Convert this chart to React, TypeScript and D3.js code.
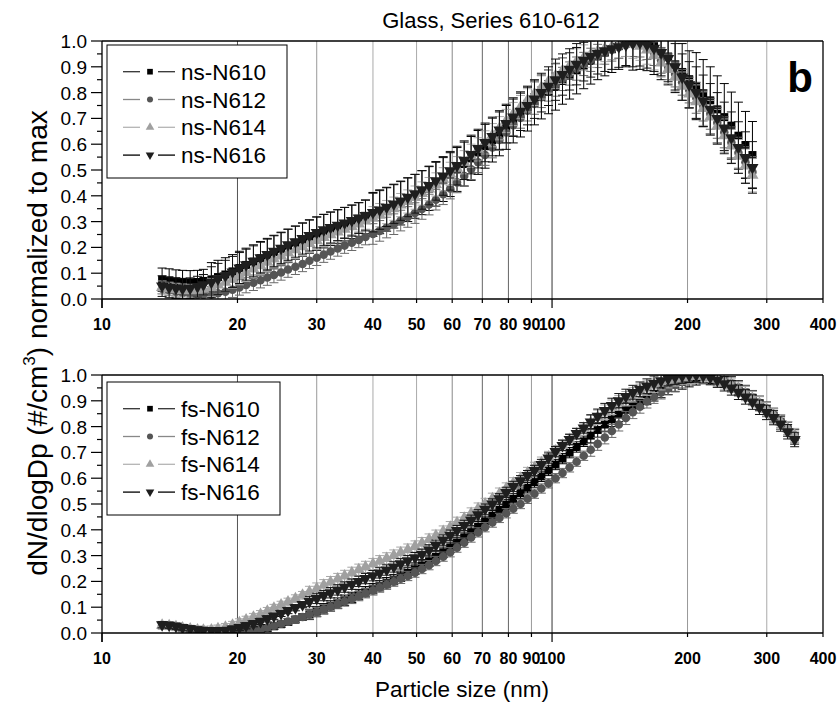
import React from 'react';
import * as d3 from 'd3';

// Particle diameters (nm), SMPS channels
const diameters = [13.6, 14.1, 14.6, 15.1, 15.7, 16.3, 16.8, 17.5, 18.1, 18.8, 19.5, 20.2, 20.9, 21.7, 22.5, 23.3, 24.1, 25.0, 25.9, 26.9, 27.9, 28.9, 30.0, 31.1, 32.2, 33.4, 34.6, 35.9, 37.2, 38.5, 40.0, 41.4, 42.9, 44.5, 46.1, 47.8, 49.6, 51.4, 53.3, 55.2, 57.3, 59.4, 61.5, 63.8, 66.1, 68.5, 71.0, 73.7, 76.4, 79.1, 82.0, 85.1, 88.2, 91.4, 94.7, 98.2, 101.8, 105.5, 109.4, 113.4, 117.6, 121.9, 126.3, 131.0, 135.8, 140.7, 145.9, 151.2, 156.8, 162.5, 168.5, 174.7, 181.1, 187.7, 194.6, 201.7, 209.1, 216.7, 224.7, 232.9, 241.4, 250.3, 259.5, 269.0, 278.8, 289.0, 299.6, 310.6, 322.0, 333.8, 346.0];

// Top panel (ns) values
const nsN610 = [0.075, 0.072, 0.068, 0.066, 0.065, 0.066, 0.07, 0.076, 0.085, 0.095, 0.107, 0.12, 0.132, 0.145, 0.158, 0.17, 0.182, 0.194, 0.206, 0.218, 0.23, 0.242, 0.253, 0.263, 0.272, 0.281, 0.29, 0.299, 0.308, 0.318, 0.328, 0.338, 0.348, 0.36, 0.372, 0.385, 0.398, 0.412, 0.428, 0.445, 0.463, 0.482, 0.502, 0.523, 0.545, 0.568, 0.592, 0.616, 0.64, 0.665, 0.69, 0.713, 0.736, 0.76, 0.783, 0.803, 0.822, 0.845, 0.865, 0.885, 0.905, 0.923, 0.94, 0.955, 0.968, 0.98, 0.99, 0.997, 1.0, 0.995, 0.98, 0.96, 0.94, 0.91, 0.88, 0.852, 0.825, 0.798, 0.77, 0.735, 0.705, 0.672, 0.633, 0.597, 0.558];
const nsN612 = [0.04, 0.033, 0.027, 0.022, 0.018, 0.016, 0.016, 0.018, 0.022, 0.028, 0.036, 0.045, 0.054, 0.063, 0.073, 0.083, 0.093, 0.103, 0.114, 0.125, 0.136, 0.148, 0.16, 0.172, 0.184, 0.196, 0.207, 0.218, 0.229, 0.24, 0.252, 0.264, 0.277, 0.29, 0.304, 0.318, 0.333, 0.349, 0.366, 0.385, 0.406, 0.428, 0.452, 0.477, 0.503, 0.53, 0.558, 0.587, 0.616, 0.645, 0.674, 0.702, 0.73, 0.756, 0.782, 0.807, 0.831, 0.853, 0.874, 0.893, 0.911, 0.927, 0.942, 0.955, 0.967, 0.977, 0.985, 0.99, 0.988, 0.978, 0.955, 0.925, 0.9, 0.872, 0.84, 0.81, 0.78, 0.75, 0.718, 0.683, 0.646, 0.607, 0.567, 0.53, 0.492];
const nsN614 = [0.045, 0.04, 0.036, 0.033, 0.032, 0.034, 0.038, 0.045, 0.054, 0.065, 0.077, 0.09, 0.103, 0.116, 0.129, 0.142, 0.155, 0.167, 0.179, 0.191, 0.203, 0.215, 0.227, 0.238, 0.249, 0.26, 0.27, 0.28, 0.291, 0.302, 0.313, 0.325, 0.337, 0.35, 0.364, 0.378, 0.393, 0.409, 0.426, 0.444, 0.464, 0.485, 0.507, 0.53, 0.555, 0.58, 0.607, 0.635, 0.662, 0.69, 0.717, 0.744, 0.77, 0.795, 0.82, 0.843, 0.865, 0.885, 0.903, 0.92, 0.935, 0.948, 0.96, 0.97, 0.978, 0.985, 0.99, 0.988, 0.98, 0.965, 0.943, 0.915, 0.89, 0.86, 0.825, 0.795, 0.765, 0.738, 0.705, 0.67, 0.633, 0.593, 0.553, 0.516, 0.48];
const nsN616 = [0.05, 0.045, 0.042, 0.04, 0.042, 0.048, 0.055, 0.065, 0.078, 0.09, 0.105, 0.12, 0.133, 0.146, 0.16, 0.172, 0.185, 0.197, 0.21, 0.222, 0.234, 0.246, 0.258, 0.268, 0.277, 0.286, 0.295, 0.304, 0.314, 0.324, 0.335, 0.345, 0.356, 0.368, 0.38, 0.394, 0.408, 0.423, 0.44, 0.458, 0.477, 0.497, 0.517, 0.538, 0.56, 0.583, 0.607, 0.63, 0.655, 0.68, 0.705, 0.728, 0.75, 0.775, 0.8, 0.825, 0.85, 0.87, 0.89, 0.91, 0.925, 0.94, 0.952, 0.962, 0.97, 0.978, 0.985, 0.99, 0.993, 0.985, 0.972, 0.955, 0.932, 0.9, 0.86, 0.83, 0.8, 0.768, 0.735, 0.7, 0.663, 0.625, 0.587, 0.548, 0.51];

// Top panel error bars
const nsErr610 = [0.045, 0.045, 0.045, 0.045, 0.045, 0.045, 0.045, 0.065, 0.065, 0.065, 0.065, 0.065, 0.065, 0.065, 0.065, 0.065, 0.065, 0.065, 0.065, 0.065, 0.065, 0.065, 0.065, 0.065, 0.065, 0.065, 0.065, 0.065, 0.065, 0.065, 0.085, 0.085, 0.085, 0.085, 0.085, 0.085, 0.085, 0.085, 0.085, 0.085, 0.085, 0.085, 0.085, 0.085, 0.085, 0.085, 0.085, 0.085, 0.085, 0.085, 0.085, 0.085, 0.085, 0.085, 0.085, 0.085, 0.09, 0.09, 0.09, 0.09, 0.09, 0.09, 0.09, 0.09, 0.09, 0.09, 0.09, 0.11, 0.11, 0.11, 0.11, 0.11, 0.11, 0.11, 0.11, 0.11, 0.13, 0.13, 0.13, 0.13, 0.13, 0.13, 0.13, 0.13, 0.13];
const nsErr612 = [0.02, 0.02, 0.02, 0.02, 0.02, 0.02, 0.02, 0.03, 0.03, 0.03, 0.03, 0.03, 0.03, 0.03, 0.03, 0.03, 0.03, 0.03, 0.03, 0.03, 0.03, 0.03, 0.03, 0.03, 0.03, 0.03, 0.03, 0.03, 0.03, 0.03, 0.04, 0.04, 0.04, 0.04, 0.04, 0.04, 0.04, 0.04, 0.04, 0.04, 0.04, 0.04, 0.04, 0.04, 0.04, 0.04, 0.04, 0.04, 0.04, 0.04, 0.04, 0.04, 0.04, 0.04, 0.04, 0.04, 0.045, 0.045, 0.045, 0.045, 0.045, 0.045, 0.045, 0.045, 0.045, 0.045, 0.045, 0.05, 0.05, 0.05, 0.05, 0.05, 0.05, 0.05, 0.05, 0.05, 0.06, 0.06, 0.06, 0.06, 0.06, 0.06, 0.06, 0.06, 0.06];
const nsErr614 = [0.025, 0.025, 0.025, 0.025, 0.025, 0.025, 0.025, 0.035, 0.035, 0.035, 0.035, 0.035, 0.035, 0.035, 0.035, 0.035, 0.035, 0.035, 0.035, 0.035, 0.035, 0.035, 0.035, 0.035, 0.035, 0.035, 0.035, 0.035, 0.035, 0.035, 0.045, 0.045, 0.045, 0.045, 0.045, 0.045, 0.045, 0.045, 0.045, 0.045, 0.045, 0.045, 0.045, 0.045, 0.045, 0.045, 0.045, 0.045, 0.045, 0.045, 0.045, 0.045, 0.045, 0.045, 0.045, 0.045, 0.05, 0.05, 0.05, 0.05, 0.05, 0.05, 0.05, 0.05, 0.05, 0.05, 0.05, 0.055, 0.055, 0.055, 0.055, 0.055, 0.055, 0.055, 0.055, 0.055, 0.065, 0.065, 0.065, 0.065, 0.065, 0.065, 0.065, 0.065, 0.065];
const nsErr616 = [0.04, 0.04, 0.04, 0.04, 0.04, 0.04, 0.04, 0.06, 0.06, 0.06, 0.06, 0.06, 0.06, 0.06, 0.06, 0.06, 0.06, 0.06, 0.06, 0.06, 0.06, 0.06, 0.06, 0.06, 0.06, 0.06, 0.06, 0.06, 0.06, 0.06, 0.075, 0.075, 0.075, 0.075, 0.075, 0.075, 0.075, 0.075, 0.075, 0.075, 0.075, 0.075, 0.075, 0.075, 0.075, 0.075, 0.075, 0.075, 0.075, 0.075, 0.075, 0.075, 0.075, 0.075, 0.075, 0.075, 0.08, 0.08, 0.08, 0.08, 0.08, 0.08, 0.08, 0.08, 0.08, 0.08, 0.08, 0.09, 0.09, 0.09, 0.09, 0.09, 0.09, 0.09, 0.09, 0.09, 0.1, 0.1, 0.1, 0.1, 0.1, 0.1, 0.1, 0.1, 0.1];

// Bottom panel (fs) values
const fsN610 = [0.03, 0.028, 0.024, 0.019, 0.014, 0.01, 0.007, 0.005, 0.004, 0.003, 0.003, 0.004, 0.006, 0.009, 0.013, 0.019, 0.026, 0.034, 0.043, 0.052, 0.062, 0.072, 0.083, 0.094, 0.105, 0.116, 0.127, 0.138, 0.149, 0.16, 0.172, 0.183, 0.195, 0.207, 0.22, 0.233, 0.247, 0.262, 0.278, 0.295, 0.313, 0.332, 0.351, 0.371, 0.391, 0.412, 0.433, 0.455, 0.477, 0.498, 0.52, 0.542, 0.563, 0.585, 0.607, 0.63, 0.653, 0.676, 0.699, 0.721, 0.743, 0.765, 0.787, 0.808, 0.828, 0.847, 0.865, 0.882, 0.898, 0.913, 0.927, 0.94, 0.952, 0.963, 0.973, 0.982, 0.989, 0.994, 0.995, 0.99, 0.98, 0.966, 0.95, 0.932, 0.912, 0.89, 0.867, 0.843, 0.817, 0.79, 0.76];
const fsN612 = [0.03, 0.028, 0.024, 0.019, 0.014, 0.01, 0.008, 0.006, 0.005, 0.004, 0.004, 0.005, 0.007, 0.01, 0.015, 0.021, 0.028, 0.036, 0.044, 0.053, 0.062, 0.072, 0.082, 0.092, 0.102, 0.112, 0.122, 0.132, 0.143, 0.154, 0.165, 0.176, 0.187, 0.199, 0.21, 0.221, 0.234, 0.248, 0.263, 0.279, 0.296, 0.313, 0.331, 0.35, 0.37, 0.39, 0.41, 0.428, 0.446, 0.464, 0.482, 0.5, 0.52, 0.54, 0.56, 0.58, 0.6, 0.62, 0.642, 0.664, 0.687, 0.71, 0.733, 0.758, 0.783, 0.808, 0.833, 0.856, 0.877, 0.897, 0.915, 0.932, 0.948, 0.962, 0.975, 0.986, 0.994, 0.998, 0.996, 0.99, 0.98, 0.967, 0.951, 0.933, 0.913, 0.892, 0.87, 0.846, 0.82, 0.793, 0.765];
const fsN614 = [0.03, 0.028, 0.024, 0.019, 0.015, 0.012, 0.011, 0.012, 0.016, 0.022, 0.03, 0.04, 0.05, 0.061, 0.072, 0.084, 0.096, 0.108, 0.12, 0.133, 0.146, 0.159, 0.172, 0.185, 0.197, 0.209, 0.221, 0.233, 0.245, 0.256, 0.267, 0.278, 0.289, 0.3, 0.311, 0.323, 0.335, 0.348, 0.362, 0.377, 0.393, 0.41, 0.427, 0.445, 0.463, 0.482, 0.5, 0.52, 0.54, 0.56, 0.58, 0.6, 0.62, 0.64, 0.66, 0.682, 0.705, 0.728, 0.75, 0.772, 0.794, 0.815, 0.836, 0.856, 0.875, 0.892, 0.908, 0.923, 0.937, 0.949, 0.96, 0.97, 0.978, 0.985, 0.99, 0.994, 0.996, 0.995, 0.991, 0.984, 0.973, 0.96, 0.945, 0.928, 0.909, 0.888, 0.866, 0.843, 0.818, 0.792, 0.765];
const fsN616 = [0.032, 0.03, 0.026, 0.021, 0.016, 0.012, 0.01, 0.009, 0.009, 0.01, 0.015, 0.021, 0.028, 0.036, 0.045, 0.055, 0.065, 0.076, 0.087, 0.098, 0.11, 0.122, 0.134, 0.145, 0.156, 0.167, 0.178, 0.189, 0.2, 0.211, 0.222, 0.233, 0.244, 0.256, 0.268, 0.28, 0.292, 0.305, 0.322, 0.34, 0.36, 0.379, 0.397, 0.417, 0.437, 0.458, 0.48, 0.5, 0.52, 0.545, 0.568, 0.59, 0.61, 0.63, 0.653, 0.678, 0.703, 0.727, 0.75, 0.773, 0.795, 0.818, 0.84, 0.862, 0.882, 0.9, 0.917, 0.932, 0.945, 0.957, 0.968, 0.978, 0.986, 0.992, 0.996, 0.999, 1.0, 0.997, 0.99, 0.98, 0.966, 0.95, 0.933, 0.915, 0.895, 0.875, 0.855, 0.835, 0.81, 0.78, 0.75];

// Bottom panel error bars
const fsErr610 = [0.012, 0.012, 0.012, 0.012, 0.012, 0.012, 0.012, 0.012, 0.012, 0.012, 0.012, 0.012, 0.012, 0.012, 0.012, 0.012, 0.012, 0.012, 0.012, 0.012, 0.012, 0.02, 0.02, 0.02, 0.02, 0.02, 0.02, 0.02, 0.02, 0.02, 0.02, 0.02, 0.02, 0.02, 0.02, 0.02, 0.02, 0.02, 0.02, 0.02, 0.02, 0.02, 0.02, 0.02, 0.02, 0.02, 0.02, 0.02, 0.02, 0.02, 0.02, 0.02, 0.02, 0.02, 0.02, 0.02, 0.02, 0.02, 0.02, 0.02, 0.02, 0.028, 0.028, 0.028, 0.028, 0.028, 0.028, 0.028, 0.028, 0.028, 0.028, 0.028, 0.028, 0.028, 0.028, 0.028, 0.028, 0.028, 0.028, 0.028, 0.028, 0.028, 0.028, 0.028, 0.028, 0.028, 0.028, 0.028, 0.028, 0.028, 0.028];
const fsErr612 = [0.012, 0.012, 0.012, 0.012, 0.012, 0.012, 0.012, 0.012, 0.012, 0.012, 0.012, 0.012, 0.012, 0.012, 0.012, 0.012, 0.012, 0.012, 0.012, 0.012, 0.012, 0.018, 0.018, 0.018, 0.018, 0.018, 0.018, 0.018, 0.018, 0.018, 0.018, 0.018, 0.018, 0.018, 0.018, 0.018, 0.018, 0.018, 0.018, 0.018, 0.018, 0.018, 0.018, 0.018, 0.018, 0.018, 0.018, 0.018, 0.018, 0.018, 0.018, 0.018, 0.018, 0.018, 0.018, 0.018, 0.018, 0.018, 0.018, 0.018, 0.018, 0.025, 0.025, 0.025, 0.025, 0.025, 0.025, 0.025, 0.025, 0.025, 0.025, 0.025, 0.025, 0.025, 0.025, 0.025, 0.025, 0.025, 0.025, 0.025, 0.025, 0.025, 0.025, 0.025, 0.025, 0.025, 0.025, 0.025, 0.025, 0.025, 0.025];
const fsErr614 = [0.015, 0.015, 0.015, 0.015, 0.015, 0.015, 0.015, 0.015, 0.015, 0.015, 0.015, 0.015, 0.015, 0.015, 0.015, 0.015, 0.015, 0.015, 0.015, 0.015, 0.015, 0.022, 0.022, 0.022, 0.022, 0.022, 0.022, 0.022, 0.022, 0.022, 0.022, 0.022, 0.022, 0.022, 0.022, 0.022, 0.022, 0.022, 0.022, 0.022, 0.022, 0.022, 0.022, 0.022, 0.022, 0.022, 0.022, 0.022, 0.022, 0.022, 0.022, 0.022, 0.022, 0.022, 0.022, 0.022, 0.022, 0.022, 0.022, 0.022, 0.022, 0.028, 0.028, 0.028, 0.028, 0.028, 0.028, 0.028, 0.028, 0.028, 0.028, 0.028, 0.028, 0.028, 0.028, 0.028, 0.028, 0.028, 0.028, 0.028, 0.028, 0.028, 0.028, 0.028, 0.028, 0.028, 0.028, 0.028, 0.028, 0.028, 0.028];
const fsErr616 = [0.012, 0.012, 0.012, 0.012, 0.012, 0.012, 0.012, 0.012, 0.012, 0.012, 0.012, 0.012, 0.012, 0.012, 0.012, 0.012, 0.012, 0.012, 0.012, 0.012, 0.012, 0.02, 0.02, 0.02, 0.02, 0.02, 0.02, 0.02, 0.02, 0.02, 0.02, 0.02, 0.02, 0.02, 0.02, 0.02, 0.02, 0.02, 0.02, 0.02, 0.02, 0.02, 0.02, 0.02, 0.02, 0.02, 0.02, 0.02, 0.02, 0.02, 0.02, 0.02, 0.02, 0.02, 0.02, 0.02, 0.02, 0.02, 0.02, 0.02, 0.02, 0.028, 0.028, 0.028, 0.028, 0.028, 0.028, 0.028, 0.028, 0.028, 0.028, 0.028, 0.028, 0.028, 0.028, 0.028, 0.028, 0.028, 0.028, 0.028, 0.028, 0.028, 0.028, 0.028, 0.028, 0.028, 0.028, 0.028, 0.028, 0.028, 0.028];

const topNames = ['ns-N610', 'ns-N612', 'ns-N614', 'ns-N616'];
const bottomNames = ['fs-N610', 'fs-N612', 'fs-N614', 'fs-N616'];
const xTickValues = [10, 20, 30, 40, 50, 60, 70, 80, 90, 100, 200, 300, 400];
const xGridValues = [20, 30, 40, 50, 60, 70, 80, 90, 100, 200, 300];
const yTickValues = [0, 0.1, 0.2, 0.3, 0.4, 0.5, 0.6, 0.7, 0.8, 0.9, 1.0];

// styles
const FONT = "'Liberation Sans', Arial, Helvetica, sans-serif";
const NARROW = "'Liberation Sans Narrow', 'Arial Narrow', 'Liberation Sans', Arial, sans-serif";
const seriesStyle = [
  { shape: 'square', fill: '#000000', bar: '#000000', legendLine: '#333333' },
  { shape: 'circle', fill: '#555555', bar: '#6a6a6a', legendLine: '#888888' },
  { shape: 'up', fill: '#a0a0a0', bar: '#a8a8a8', legendLine: '#b4b4b4' },
  { shape: 'down', fill: '#1e1e1e', bar: '#111111', legendLine: '#000000' },
];
const gridColor: Record<number, string> = { 20: '#555', 30: '#999', 40: '#aaa', 50: '#aaa', 60: '#888', 70: '#666', 80: '#666', 90: '#999', 100: '#333', 200: '#999', 300: '#aaa' };

const X0 = 102, X1 = 823;
const x = d3.scaleLog().domain([10, 400]).range([X0, X1]);

function markerPath(shape: string, size: number) {
  const t = shape === 'square' ? d3.symbolSquare : shape === 'circle' ? d3.symbolCircle : d3.symbolTriangle;
  return d3.symbol().type(t).size(size)() as string;
}

function Marker({ shape, cx, cy, fill, size }: any) {
  const s = shape === 'circle' ? size * 0.9 : size;
  const rot = shape === 'down' ? ' rotate(180)' : '';
  return <path d={markerPath(shape, s)} transform={`translate(${cx},${cy})${rot}`} fill={fill} />;
}

function Panel({ top, bottom, names, values, errors, legend, clipId, showB }: any) {
  const y = d3.scaleLinear().domain([0, 1]).range([bottom, top]);
  const minorY = d3.range(0, 10).map((i) => i * 0.1 + 0.05);
  return (
    <g>
      <defs>
        <clipPath id={clipId}>
          <rect x={X0} y={top} width={X1 - X0} height={bottom - top} />
        </clipPath>
      </defs>
      {xGridValues.map((v) => (
        <line key={'g' + v} x1={x(v)} x2={x(v)} y1={top} y2={bottom} stroke={gridColor[v]} strokeWidth={1} />
      ))}
      <g clipPath={`url(#${clipId})`}>
        {values.map((ser: number[], si: number) => {
          const st = seriesStyle[si];
          const err = errors[si];
          return (
            <g key={'s' + si}>
              {ser.map((v, i) => {
                const cx = x(diameters[i]);
                const yt = y(v + err[i]);
                const yb = y(Math.max(v - err[i], -0.05));
                return (
                  <g key={i} stroke={st.bar} strokeWidth={1}>
                    <line x1={cx} x2={cx} y1={yt} y2={yb} />
                    <line x1={cx - 4.5} x2={cx + 4.5} y1={yt} y2={yt} />
                    <line x1={cx - 4.5} x2={cx + 4.5} y1={yb} y2={yb} />
                  </g>
                );
              })}
              {ser.map((v, i) => (
                <Marker key={'m' + i} shape={st.shape} cx={x(diameters[i])} cy={y(v)} fill={st.fill} size={64} />
              ))}
            </g>
          );
        })}
      </g>
      <line x1={X0} x2={X1} y1={top} y2={top} stroke="#000" strokeWidth={1.3} />
      <line x1={X1} x2={X1} y1={top} y2={bottom} stroke="#000" strokeWidth={1.3} />
      <line x1={X0} x2={X1} y1={bottom} y2={bottom} stroke="#000" strokeWidth={1.3} />
      <line x1={X0} x2={X0} y1={top} y2={bottom + 9} stroke="#000" strokeWidth={1.3} />
      {xTickValues.map((v) => {
        const major = v === 10 || v === 100;
        return (
          <g key={'xt' + v}>
            <line x1={x(v)} x2={x(v)} y1={bottom} y2={bottom + (major ? 9 : 4)} stroke="#000" strokeWidth={1.2} />
            <text x={x(v)} y={bottom + 31} textAnchor="middle" fontFamily={NARROW} fontWeight="bold" fontSize={16}>
              {v}
            </text>
          </g>
        );
      })}
      {yTickValues.map((v) => (
        <g key={'yt' + v}>
          <line x1={X0 - 11} x2={X0} y1={y(v)} y2={y(v)} stroke="#000" strokeWidth={1.2} />
          <text x={X0 - 15} y={y(v) + 7} textAnchor="end" fontFamily={FONT} fontSize={19}>
            {v.toFixed(1)}
          </text>
        </g>
      ))}
      {minorY.map((v, i) => (
        <line key={'ym' + i} x1={X0 - 5} x2={X0} y1={y(v)} y2={y(v)} stroke="#000" strokeWidth={1.2} />
      ))}
      <rect x={legend.x} y={legend.y} width={legend.w} height={legend.h} fill="#fff" stroke="#000" strokeWidth={1} />
      {names.map((n: string, i: number) => {
        const st = seriesStyle[i];
        const cy = legend.y + 26.7 + i * 27.8;
        return (
          <g key={'l' + n}>
            <line x1={legend.x + 16} x2={legend.x + 33} y1={cy} y2={cy} stroke={st.legendLine} strokeWidth={1.3} />
            <line x1={legend.x + 51} x2={legend.x + 68} y1={cy} y2={cy} stroke={st.legendLine} strokeWidth={1.3} />
            <Marker shape={st.shape} cx={legend.x + 43} cy={cy} fill={st.fill} size={32} />
            <text x={legend.x + 74} y={cy + 8} fontFamily={FONT} fontSize={22.5}>
              {n}
            </text>
          </g>
        );
      })}
      {showB && (
        <text x={813} y={92} textAnchor="end" fontFamily={FONT} fontWeight="bold" fontSize={42}>
          b
        </text>
      )}
    </g>
  );
}

export default function App() {
  const topValues = [nsN610, nsN612, nsN614, nsN616];
  const topErrors = [nsErr610, nsErr612, nsErr614, nsErr616];
  const botValues = [fsN610, fsN612, fsN614, fsN616];
  const botErrors = [fsErr610, fsErr612, fsErr614, fsErr616];
  return (
    <svg width={839} height={703} style={{ position: 'absolute', left: 0, top: 0, background: '#fff' }}>
      <rect x={0} y={0} width={839} height={703} fill="#fff" />
      <text x={491} y={28} textAnchor="middle" fontFamily={FONT} fontSize={22}>
        Glass, Series 610-612
      </text>
      <Panel top={41} bottom={299} names={topNames} values={topValues} errors={topErrors} clipId="clipTop" showB
        legend={{ x: 107, y: 45, w: 180, h: 133 }} />
      <Panel top={375} bottom={633} names={bottomNames} values={botValues} errors={botErrors} clipId="clipBot"
        legend={{ x: 107, y: 382, w: 173, h: 133 }} />
      <text transform="translate(47,343) rotate(-90)" textAnchor="middle" fontFamily={FONT} fontSize={28}>
        dN/dlogDp (#/cm<tspan dy={-12} fontSize={17}>3</tspan><tspan dy={12}>) normalized to max</tspan>
      </text>
      <text x={462} y={697} textAnchor="middle" fontFamily={FONT} fontSize={22.5}>
        Particle size (nm)
      </text>
    </svg>
  );
}
